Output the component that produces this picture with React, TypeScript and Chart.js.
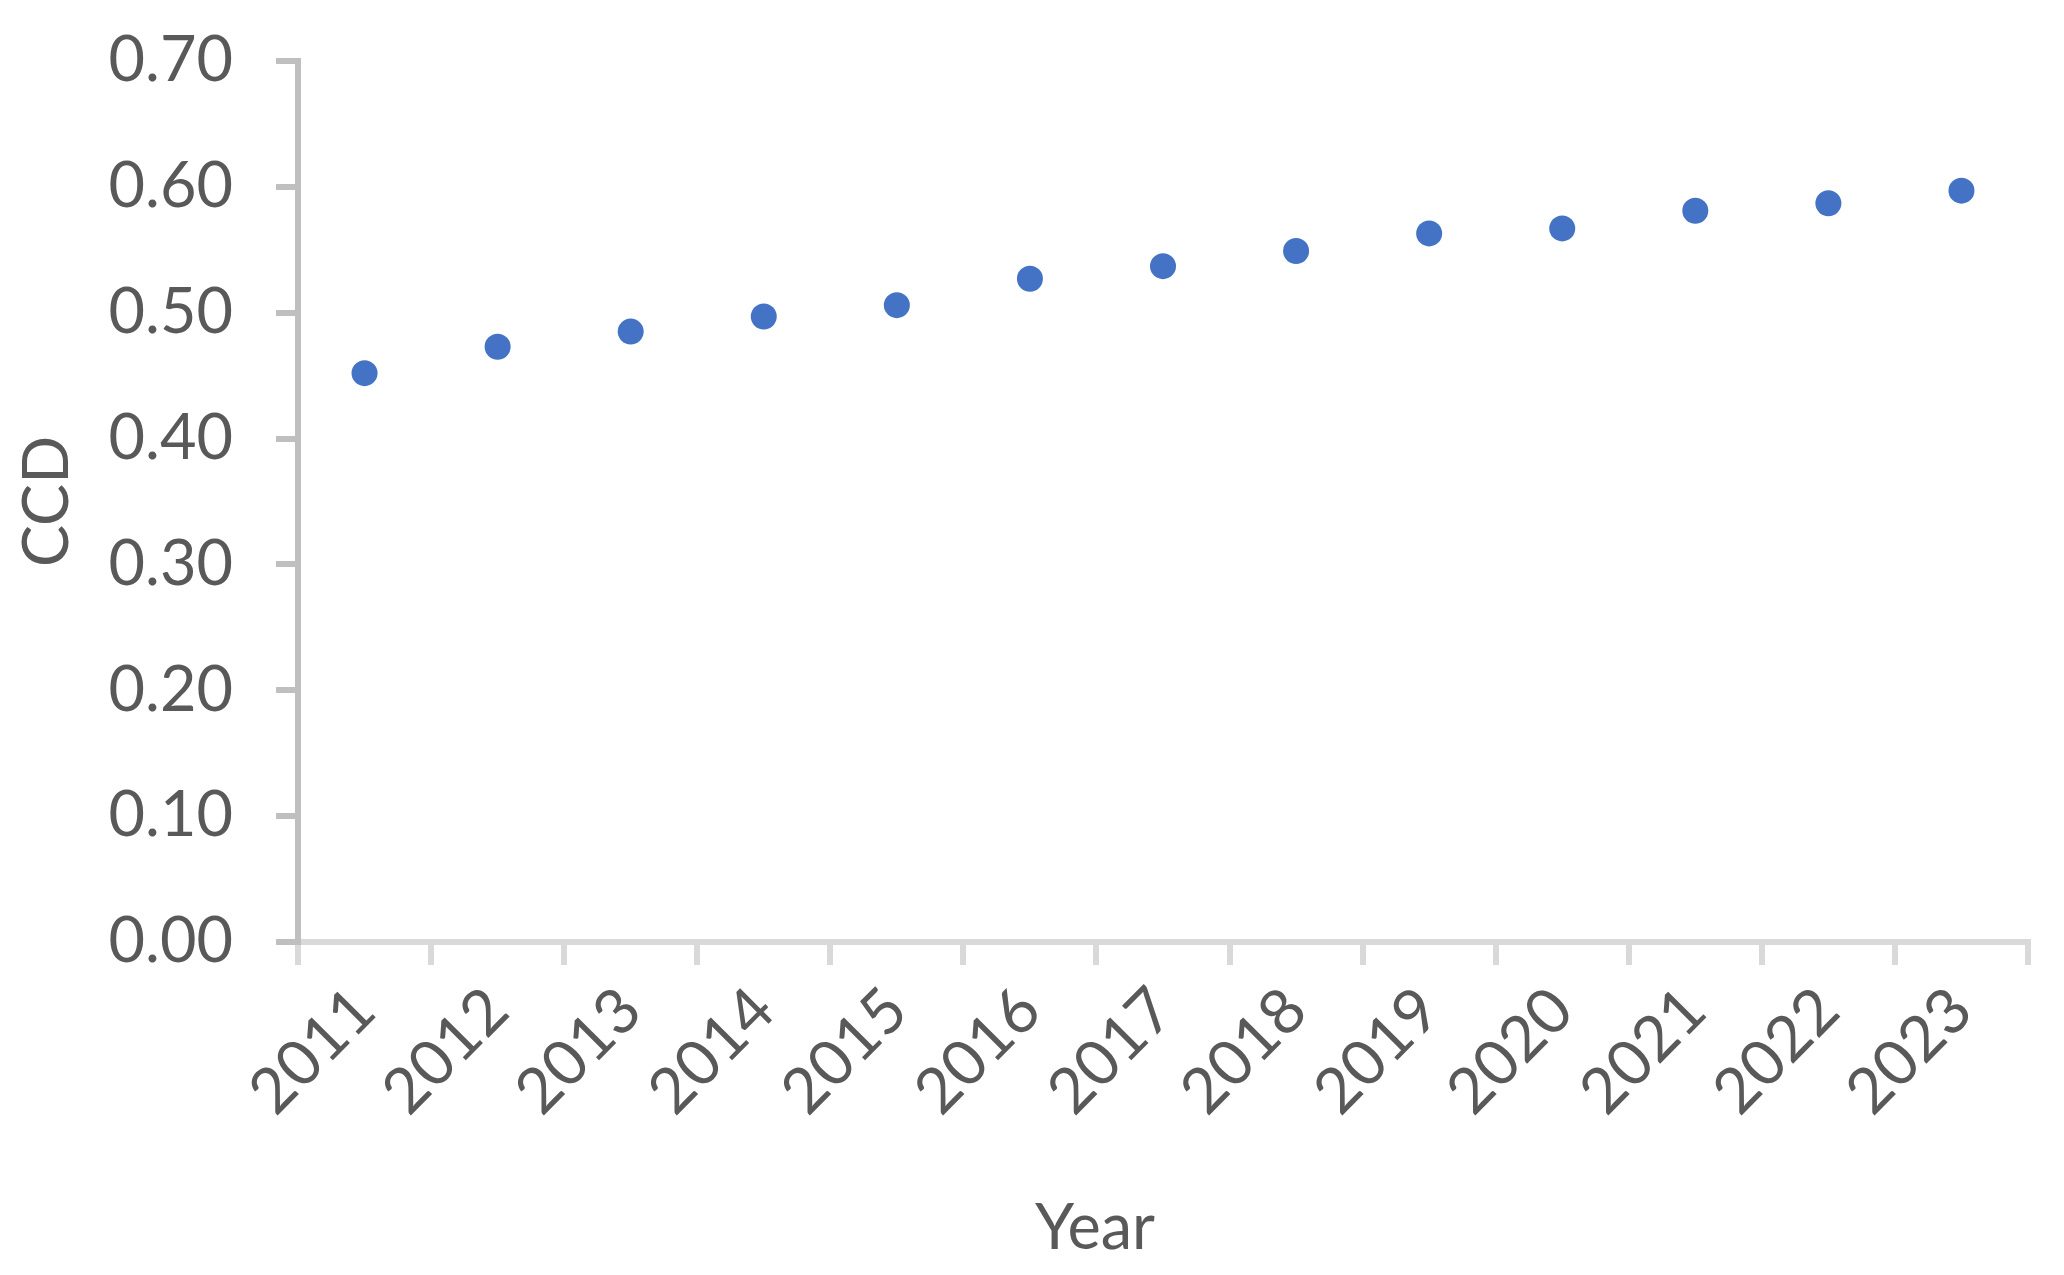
import React, { useEffect, useRef } from 'react';
import { Chart, registerables } from 'chart.js';

Chart.register(...registerables);

// ---- data ----
const years: string[] = ['2011', '2012', '2013', '2014', '2015', '2016', '2017', '2018', '2019', '2020', '2021', '2022', '2023'];
const ccdValues: number[] = [0.452, 0.473, 0.485, 0.497, 0.506, 0.527, 0.537, 0.549, 0.563, 0.567, 0.581, 0.587, 0.597];
const yMin = 0;
const yMax = 0.7;
const yStep = 0.1;
const yTitle = 'CCD';
const xTitle = 'Year';

// ---- layout / style ----
const W = 2064;
const H = 1275;
const FONT = 'Lato, "Open Sans", sans-serif';
const FONT_SIZE = 63;
const TEXT_COLOR = '#595959';
const Y_AXIS_COLOR = '#BFBFBF';
const X_AXIS_COLOR = '#D9D9D9';
const POINT_COLOR = '#4472C4';
const Y_AXIS_WIDTH = 298;
const X_AXIS_HEIGHT = 333;
const X_TITLE_CENTER_X = 1095;
const X_TITLE_CENTER_Y = 1229;

const xTitlePlugin = {
  id: 'xTitlePlugin',
  afterDraw(chart: any) {
    const ctx = chart.ctx;
    ctx.save();
    ctx.font = `${FONT_SIZE}px ${FONT}`;
    ctx.fillStyle = TEXT_COLOR;
    ctx.textAlign = 'center';
    ctx.textBaseline = 'middle';
    ctx.fillText(xTitle, X_TITLE_CENTER_X, X_TITLE_CENTER_Y);
    ctx.restore();
  },
};

export default function App() {
  const canvasRef = useRef<HTMLCanvasElement | null>(null);

  useEffect(() => {
    if (!canvasRef.current) return;
    const chart = new Chart(canvasRef.current, {
      type: 'line',
      data: {
        labels: years,
        datasets: [
          {
            label: yTitle,
            data: ccdValues,
            showLine: false,
            pointRadius: 13,
            pointHoverRadius: 13,
            pointBackgroundColor: POINT_COLOR,
            pointBorderColor: POINT_COLOR,
            pointBorderWidth: 0,
            borderColor: POINT_COLOR,
            backgroundColor: POINT_COLOR,
          },
        ],
      },
      options: {
        animation: false,
        responsive: false,
        devicePixelRatio: 1,
        layout: { padding: { top: 61, right: 36, left: 0, bottom: 0 } },
        plugins: {
          legend: { display: false },
          tooltip: { enabled: false },
          title: { display: false },
        },
        scales: {
          x: {
            type: 'category',
            offset: true,
            grid: {
              offset: true,
              drawOnChartArea: false,
              drawTicks: true,
              tickLength: 23,
              color: X_AXIS_COLOR,
              lineWidth: 6,
            },
            border: { display: true, color: X_AXIS_COLOR, width: 6 },
            ticks: {
              autoSkip: false,
              maxRotation: 45,
              minRotation: 45,
              padding: 8,
              color: TEXT_COLOR,
              font: { family: FONT, size: FONT_SIZE },
            },
            afterFit(scale: any) {
              scale.height = X_AXIS_HEIGHT;
              scale.paddingLeft = 0;
              scale.paddingRight = 0;
            },
          },
          y: {
            min: yMin,
            max: yMax,
            grid: {
              drawOnChartArea: false,
              drawTicks: true,
              tickLength: 22,
              color: Y_AXIS_COLOR,
              lineWidth: 6,
            },
            border: { display: true, color: Y_AXIS_COLOR, width: 6 },
            ticks: {
              stepSize: yStep,
              padding: 43,
              color: TEXT_COLOR,
              font: { family: FONT, size: FONT_SIZE },
              callback: (v: any) => Number(v).toFixed(2),
            },
            title: {
              display: true,
              text: yTitle,
              color: TEXT_COLOR,
              font: { family: FONT, size: FONT_SIZE },
              padding: { top: 10, bottom: 0 },
            },
            afterFit(scale: any) {
              scale.width = Y_AXIS_WIDTH;
              scale.paddingTop = 0;
              scale.paddingBottom = 0;
            },
          },
        },
      },
      plugins: [xTitlePlugin],
    });
    return () => chart.destroy();
  }, []);

  return (
    <div style={{ position: 'absolute', left: 0, top: 0, width: W, height: H, background: '#ffffff' }}>
      <canvas ref={canvasRef} width={W} height={H} style={{ width: W, height: H, display: 'block' }} />
    </div>
  );
}
